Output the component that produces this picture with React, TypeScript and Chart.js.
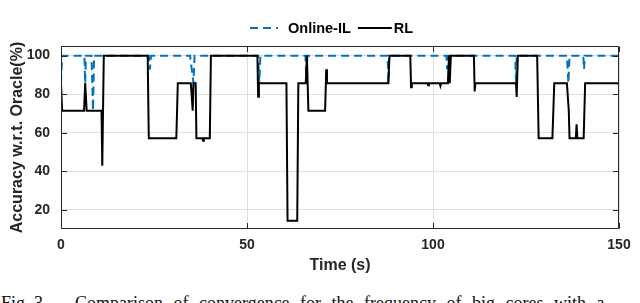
import React, { useEffect, useRef } from "react";
import { Chart, registerables } from "chart.js";

Chart.register(...registerables);

const seriesNames = ["Online-IL", "RL"];
const xTickValues = [0, 50, 100, 150];
const yTickValues = [20, 40, 60, 80, 100];

const onlineTime = [0, 0.3, 6.3, 6.5, 6.7, 8.2, 8.6, 8.9, 23.6, 23.9, 24.2, 34.7, 35.6, 35.9, 53.0, 53.3, 53.6, 65.7, 66.0, 66.2, 87.8, 88.0, 88.2, 103.6, 103.8, 104.0, 122.1, 122.3, 122.5, 136.0, 136.4, 136.7, 140.4, 140.6, 140.8, 150];
const onlineAcc = [85.7, 100, 100, 85.7, 100, 100, 71.4, 100, 100, 92.9, 100, 100, 85.7, 100, 100, 85.7, 100, 100, 85.7, 100, 100, 85.7, 100, 100, 92.9, 100, 100, 85.7, 100, 100, 85.7, 100, 100, 92.9, 100, 100];

const rlTime = [0, 0.3, 6.2, 6.5, 6.9, 10.9, 11.1, 11.5, 23.3, 23.6, 31.0, 31.4, 34.9, 35.4, 35.6, 36.2, 36.4, 38.0, 38.2, 38.4, 40.0, 40.3, 52.8, 53.0, 53.2, 60.6, 60.9, 63.5, 63.8, 65.8, 66.1, 66.5, 71.0, 71.3, 71.5, 88.0, 88.3, 93.9, 94.1, 94.3, 98.5, 98.7, 98.9, 101.8, 102.0, 102.2, 104.0, 104.3, 104.5, 104.8, 111.0, 111.2, 111.4, 122.3, 122.5, 122.8, 128.0, 128.4, 132.1, 132.6, 136.0, 136.5, 136.7, 138.4, 138.6, 138.8, 140.5, 140.9, 150];
const rlAcc = [85.7, 71.4, 71.4, 85.7, 71.4, 71.4, 42.9, 100, 100, 57.1, 57.1, 85.7, 85.7, 71.4, 85.7, 85.7, 57.1, 57.1, 55.8, 57.1, 57.1, 100, 100, 78.6, 85.7, 85.7, 14.3, 14.3, 85.7, 85.7, 100, 71.4, 71.4, 92.9, 85.7, 85.7, 100, 100, 83.6, 85.7, 85.7, 84.6, 85.7, 85.7, 84.3, 85.7, 85.7, 100, 85.7, 100, 100, 81.4, 85.7, 85.7, 78.6, 100, 100, 57.1, 57.1, 85.7, 85.7, 71.4, 57.1, 57.1, 64.3, 57.1, 57.1, 85.7, 85.7];

const AXIS_COLOR = "#262626";
const FONT = "'Liberation Sans', Arial, Helvetica, sans-serif";

const framePlugin = {
  id: "frame",
  afterDatasetsDraw(chart: any) {
    const { ctx, chartArea: a, scales } = chart;
    ctx.save();
    ctx.strokeStyle = AXIS_COLOR;
    ctx.lineWidth = 1;
    const l = Math.round(a.left) + 0.5;
    const t = Math.round(a.top) + 0.5;
    const r = Math.round(a.right) - 0.5;
    const b = Math.round(a.bottom) - 0.5;
    ctx.beginPath();
    ctx.rect(l, t, r - l, b - t);
    const tl = 5.5;
    scales.x.ticks.forEach((tk: any) => {
      const px = Math.round(scales.x.getPixelForValue(tk.value)) + 0.5;
      ctx.moveTo(px, b);
      ctx.lineTo(px, b - tl);
      ctx.moveTo(px, t);
      ctx.lineTo(px, t + tl);
    });
    scales.y.ticks.forEach((tk: any) => {
      const py = Math.round(scales.y.getPixelForValue(tk.value)) + 0.5;
      ctx.moveTo(l, py);
      ctx.lineTo(l + tl, py);
      ctx.moveTo(r, py);
      ctx.lineTo(r - tl, py);
    });
    ctx.stroke();
    ctx.restore();
  },
};

const legendPlugin = {
  id: "customLegend",
  afterDraw(chart: any) {
    const { ctx, chartArea: a } = chart;
    const ds = chart.data.datasets;
    ctx.save();
    ctx.font = `bold 14.5px ${FONT}`;
    ctx.textBaseline = "middle";
    const y = 28;
    let x = (a.left + a.right) / 2 - 90;
    const sampleLens = [28, 34];
    const gapsAfterSample = [10, 2];
    const gapsAfterText = [7, 0];
    ds.forEach((d: any, i: number) => {
      ctx.strokeStyle = d.borderColor;
      ctx.lineWidth = d.borderWidth;
      ctx.setLineDash(d.borderDash || []);
      ctx.beginPath();
      ctx.moveTo(x, y);
      ctx.lineTo(x + sampleLens[i], y);
      ctx.stroke();
      ctx.setLineDash([]);
      x += sampleLens[i] + gapsAfterSample[i];
      ctx.fillStyle = "#000";
      ctx.fillText(d.label, x, y + 1);
      x += ctx.measureText(d.label).width + gapsAfterText[i];
    });
    ctx.restore();
  },
};

function App() {
  const ref = useRef<HTMLCanvasElement | null>(null);

  useEffect(() => {
    if (!ref.current) return;
    const chart = new Chart(ref.current, {
      type: "line",
      data: {
        datasets: [
          {
            label: seriesNames[0],
            data: onlineTime.map((t, i) => ({ x: t, y: onlineAcc[i] })),
            borderColor: "#0072BD",
            borderWidth: 2,
            borderDash: [8, 5],
            pointRadius: 0,
            tension: 0,
            fill: false,
            order: 2,
          },
          {
            label: seriesNames[1],
            data: rlTime.map((t, i) => ({ x: t, y: rlAcc[i] })),
            borderColor: "#000000",
            borderWidth: 2,
            pointRadius: 0,
            tension: 0,
            fill: false,
            order: 1,
          },
        ],
      },
      options: {
        responsive: false,
        animation: false,
        devicePixelRatio: 1,
        layout: { padding: { top: 46, right: 21, left: 0, bottom: 0 } },
        plugins: {
          legend: { display: false },
          tooltip: { enabled: false },
        },
        scales: {
          x: {
            type: "linear",
            min: 0,
            max: 150,
            afterBuildTicks: (s: any) => {
              s.ticks = xTickValues.map((v) => ({ value: v }));
            },
            afterFit: (s: any) => {
              s.height = 61;
            },
            grid: { color: "#e0e0e0", lineWidth: 1, drawTicks: false },
            border: { display: false },
            ticks: {
              padding: 8,
              color: AXIS_COLOR,
              font: { family: FONT, size: 14, weight: "bold" },
              maxRotation: 0,
            },
            title: {
              display: true,
              text: "Time (s)",
              color: AXIS_COLOR,
              font: { family: FONT, size: 16, weight: "bold" },
              padding: { top: 0, bottom: 15 },
            },
          },
          y: {
            type: "linear",
            min: 10,
            max: 105,
            afterBuildTicks: (s: any) => {
              s.ticks = yTickValues.map((v) => ({ value: v }));
            },
            afterFit: (s: any) => {
              s.width = 61;
            },
            grid: { color: "#e0e0e0", lineWidth: 1, drawTicks: false },
            border: { display: false },
            ticks: {
              padding: 11,
              color: AXIS_COLOR,
              font: { family: FONT, size: 14, weight: "bold" },
            },
            title: {
              display: true,
              text: "Accuracy w.r.t. Oracle(%)",
              color: AXIS_COLOR,
              font: { family: FONT, size: 16, weight: "bold" },
              padding: { top: 8, bottom: 0 },
            },
          },
        },
      },
      plugins: [framePlugin, legendPlugin],
    } as any);
    return () => chart.destroy();
  }, []);

  return (
    <div style={{ position: "absolute", left: 0, top: 0, width: 640, height: 303, overflow: "hidden", background: "#fff" }}>
      <canvas ref={ref} width={640} height={290} style={{ position: "absolute", left: 0, top: 0, width: 640, height: 290 }} />
      <div
        style={{
          position: "absolute",
          left: 1,
          top: 294,
          fontFamily: "'Liberation Serif', 'Times New Roman', serif",
          fontSize: 18,
          lineHeight: "18px",
          whiteSpace: "nowrap",
          color: "#111",
        }}
      >
        <span>Fig. 3.</span>
        <span style={{ position: "absolute", left: 74, top: 0, wordSpacing: 6 }}>
          Comparison of convergence for the frequency of big cores with a
        </span>
      </div>
    </div>
  );
}

export default App;
